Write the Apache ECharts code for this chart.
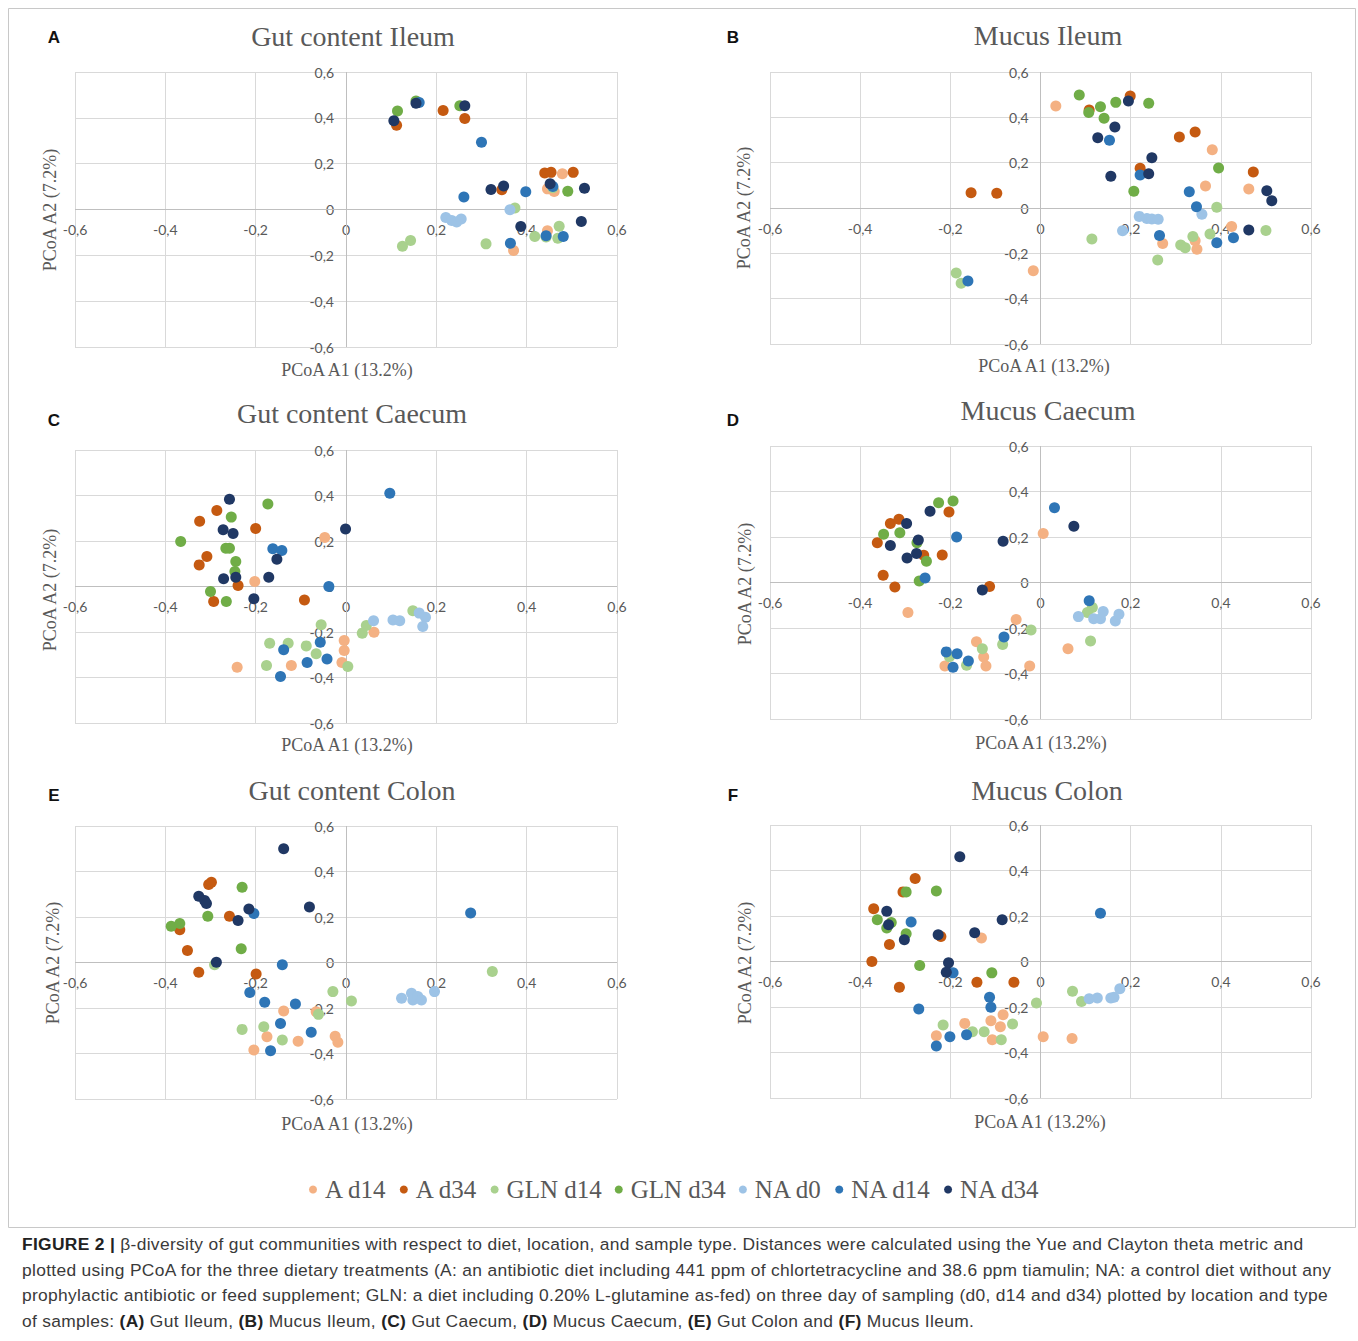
<!DOCTYPE html>
<html>
<head>
<meta charset="utf-8">
<script src="https://cdn.jsdelivr.net/npm/echarts@6/dist/echarts.min.js"></script>
<style>
html,body{margin:0;padding:0;background:#fff;}
#chart{position:absolute;left:0;top:0;width:1358px;height:1341px;}
#cap{position:absolute;left:22px;top:1232px;font-family:"Liberation Sans",Arial,sans-serif;font-size:17.4px;letter-spacing:0.32px;line-height:25.5px;color:#3a3a3a;white-space:nowrap;}
#cap b{color:#222;}
</style>
</head>
<body>
<div id="chart"></div>
<div id="cap"><b>FIGURE 2 |</b> β-diversity of gut communities with respect to diet, location, and sample type. Distances were calculated using the Yue and Clayton theta metric and<br>plotted using PCoA for the three dietary treatments (A: an antibiotic diet including 441 ppm of chlortetracycline and 38.6 ppm tiamulin; NA: a control diet without any<br>prophylactic antibiotic or feed supplement; GLN: a diet including 0.20% L-glutamine as-fed) on three day of sampling (d0, d14 and d34) plotted by location and type<br>of samples: <b>(A)</b> Gut Ileum, <b>(B)</b> Mucus Ileum, <b>(C)</b> Gut Caecum, <b>(D)</b> Mucus Caecum, <b>(E)</b> Gut Colon and <b>(F)</b> Mucus Ileum.</div>
<script>
// ---- data ----
const seriesNames = ['A d14','A d34','GLN d14','GLN d34','NA d0','NA d14','NA d34'];
const panelTitles = ['Gut content Ileum','Mucus Ileum','Gut content Caecum','Mucus Caecum','Gut content Colon','Mucus Colon'];
const panelLetters = ['A','B','C','D','E','F'];
const axisTicks = [-0.6,-0.4,-0.2,0,0.2,0.4,0.6];
const xAxisName = 'PCoA A1 (13.2%)';
const yAxisName = 'PCoA A2 (7.2%)';

// Panel A: Gut content Ileum
const A_Ad14 = [[0.479,0.156],[0.446,0.09],[0.461,0.079],[0.446,-0.093],[0.371,-0.179]];
const A_Ad34 = [[0.112,0.368],[0.215,0.432],[0.263,0.397],[0.44,0.159],[0.454,0.162],[0.503,0.162],[0.345,0.086]];
const A_G14 = [[0.458,0.095],[0.374,0.007],[0.472,-0.073],[0.418,-0.118],[0.443,-0.12],[0.469,-0.125],[0.31,-0.15],[0.143,-0.135],[0.125,-0.16]];
const A_G34 = [[0.155,0.473],[0.114,0.43],[0.252,0.453],[0.491,0.08]];
const A_N0 = [[0.363,-0.001],[0.221,-0.035],[0.234,-0.048],[0.245,-0.055],[0.255,-0.041]];
const A_N14 = [[0.162,0.467],[0.3,0.293],[0.458,0.1],[0.398,0.077],[0.261,0.055],[0.443,-0.115],[0.481,-0.118],[0.364,-0.147]];
const A_N34 = [[0.155,0.464],[0.106,0.387],[0.263,0.453],[0.452,0.112],[0.528,0.093],[0.321,0.087],[0.349,0.103],[0.387,-0.074],[0.521,-0.052]];

// Panel B: Mucus Ileum
const B_Ad14 = [[0.034,0.45],[0.381,0.257],[0.366,0.097],[0.462,0.084],[0.271,-0.157],[0.343,-0.144],[0.347,-0.182],[0.424,-0.082],[-0.016,-0.277]];
const B_Ad34 = [[0.108,0.432],[0.199,0.494],[0.308,0.313],[0.343,0.335],[0.221,0.175],[0.472,0.159],[-0.154,0.067],[-0.097,0.065]];
const B_G14 = [[0.391,0.003],[0.114,-0.137],[0.311,-0.163],[0.321,-0.175],[0.338,-0.126],[0.376,-0.115],[0.5,-0.099],[0.26,-0.229],[-0.187,-0.287],[-0.176,-0.332]];
const B_G34 = [[0.086,0.499],[0.107,0.421],[0.133,0.447],[0.141,0.396],[0.167,0.466],[0.24,0.462],[0.395,0.176],[0.207,0.074]];
const B_N0 = [[0.358,-0.028],[0.219,-0.037],[0.236,-0.046],[0.247,-0.049],[0.261,-0.05],[0.182,-0.1]];
const B_N14 = [[0.153,0.299],[0.221,0.146],[0.33,0.072],[0.346,0.006],[0.264,-0.121],[0.391,-0.153],[0.428,-0.131],[-0.161,-0.322]];
const B_N34 = [[0.195,0.472],[0.127,0.31],[0.165,0.357],[0.156,0.14],[0.247,0.222],[0.24,0.151],[0.502,0.076],[0.513,0.032],[0.462,-0.097]];

// Panel C: Gut content Caecum
const C_Ad14 = [[-0.202,0.022],[-0.047,0.215],[-0.004,-0.237],[-0.004,-0.281],[-0.009,-0.334],[-0.241,-0.355],[-0.121,-0.347],[0.062,-0.201]];
const C_Ad34 = [[-0.286,0.334],[-0.324,0.287],[-0.2,0.255],[-0.308,0.132],[-0.325,0.095],[-0.239,0.004],[-0.293,-0.066],[-0.092,-0.059]];
const C_G14 = [[-0.055,-0.168],[-0.169,-0.249],[-0.128,-0.249],[-0.088,-0.261],[-0.066,-0.296],[0.004,-0.352],[-0.176,-0.347],[0.045,-0.171],[0.036,-0.205],[0.148,-0.107]];
const C_G34 = [[-0.173,0.363],[-0.254,0.305],[-0.366,0.198],[-0.266,0.168],[-0.258,0.168],[-0.244,0.11],[-0.246,0.066],[-0.3,-0.022],[-0.265,-0.066]];
const C_N0 = [[0.061,-0.151],[0.104,-0.147],[0.119,-0.151],[0.162,-0.117],[0.176,-0.135],[0.17,-0.176]];
const C_N14 = [[-0.162,0.166],[-0.142,0.158],[-0.038,0.0],[0.097,0.41],[-0.057,-0.245],[-0.138,-0.278],[-0.086,-0.334],[-0.042,-0.319],[-0.145,-0.396]];
const C_N34 = [[-0.258,0.384],[-0.272,0.249],[-0.25,0.233],[-0.271,0.034],[-0.244,0.041],[-0.153,0.12],[-0.171,0.041],[-0.204,-0.054],[-0.001,0.253]];

// Panel D: Mucus Caecum
const D_Ad14 = [[0.006,0.215],[-0.294,-0.132],[-0.054,-0.163],[-0.142,-0.26],[-0.126,-0.327],[-0.121,-0.367],[-0.212,-0.367],[-0.024,-0.367],[0.061,-0.291]];
const D_Ad34 = [[-0.203,0.31],[-0.333,0.259],[-0.314,0.278],[-0.362,0.175],[-0.259,0.12],[-0.218,0.121],[-0.349,0.032],[-0.323,-0.02],[-0.113,-0.018]];
const D_G14 = [[-0.021,-0.209],[-0.084,-0.272],[-0.129,-0.291],[-0.202,-0.326],[-0.164,-0.364],[0.111,-0.257],[0.115,-0.11],[0.104,-0.132]];
const D_G34 = [[-0.226,0.351],[-0.194,0.358],[-0.348,0.212],[-0.312,0.219],[-0.274,0.175],[-0.253,0.093],[-0.269,0.007]];
const D_N0 = [[0.084,-0.15],[0.118,-0.159],[0.133,-0.159],[0.139,-0.128],[0.166,-0.169],[0.174,-0.14]];
const D_N14 = [[-0.186,0.2],[-0.256,0.02],[0.031,0.329],[-0.081,-0.24],[-0.209,-0.305],[-0.185,-0.313],[-0.194,-0.373],[-0.16,-0.345],[0.108,-0.08]];
const D_N34 = [[-0.245,0.313],[-0.297,0.259],[-0.333,0.163],[-0.271,0.187],[-0.296,0.108],[-0.275,0.127],[-0.083,0.181],[-0.129,-0.033],[0.074,0.247]];

// Panel E: Gut content Colon
const E_Ad14 = [[-0.138,-0.213],[-0.066,-0.216],[-0.175,-0.326],[-0.106,-0.346],[-0.024,-0.324],[-0.018,-0.351],[-0.204,-0.385]];
const E_Ad34 = [[-0.304,0.343],[-0.298,0.353],[-0.258,0.203],[-0.368,0.144],[-0.351,0.053],[-0.326,-0.043],[-0.199,-0.051]];
const E_G14 = [[-0.291,-0.01],[-0.029,-0.128],[0.012,-0.169],[-0.061,-0.228],[-0.23,-0.294],[-0.182,-0.282],[-0.141,-0.341],[0.324,-0.04]];
const E_G34 = [[-0.23,0.331],[-0.306,0.203],[-0.387,0.159],[-0.368,0.171],[-0.232,0.06]];
const E_N0 = [[0.123,-0.157],[0.145,-0.135],[0.148,-0.165],[0.159,-0.15],[0.167,-0.165],[0.196,-0.128]];
const E_N14 = [[-0.204,0.215],[-0.141,-0.01],[-0.213,-0.132],[-0.18,-0.175],[-0.112,-0.182],[-0.145,-0.268],[-0.077,-0.307],[-0.167,-0.388],[0.276,0.218]];
const E_N34 = [[-0.138,0.5],[-0.326,0.291],[-0.313,0.272],[-0.309,0.259],[-0.239,0.185],[-0.215,0.235],[-0.081,0.244],[-0.287,0.001]];

// Panel F: Mucus Colon
const F_Ad14 = [[-0.131,0.103],[-0.083,-0.234],[-0.11,-0.26],[-0.089,-0.287],[-0.168,-0.272],[-0.231,-0.326],[-0.107,-0.344],[0.006,-0.331],[0.07,-0.338]];
const F_Ad34 = [[-0.278,0.365],[-0.305,0.306],[-0.37,0.232],[-0.335,0.075],[-0.221,0.11],[-0.374,0.0],[-0.313,-0.113],[-0.141,-0.091],[-0.059,-0.091]];
const F_G14 = [[-0.062,-0.275],[-0.216,-0.279],[-0.151,-0.309],[-0.125,-0.309],[-0.087,-0.344],[-0.009,-0.182],[0.071,-0.131],[0.091,-0.176]];
const F_G34 = [[-0.298,0.306],[-0.231,0.31],[-0.362,0.184],[-0.331,0.171],[-0.341,0.147],[-0.298,0.122],[-0.268,-0.018],[-0.108,-0.05]];
const F_N0 = [[0.108,-0.164],[0.126,-0.16],[0.156,-0.16],[0.163,-0.157],[0.176,-0.12]];
const F_N14 = [[-0.287,0.174],[0.133,0.212],[-0.194,-0.05],[-0.113,-0.157],[-0.11,-0.201],[-0.27,-0.209],[-0.164,-0.322],[-0.201,-0.331],[-0.231,-0.371]];
const F_N34 = [[-0.179,0.46],[-0.341,0.221],[-0.337,0.162],[-0.302,0.096],[-0.227,0.118],[-0.146,0.126],[-0.085,0.184],[-0.204,-0.006],[-0.209,-0.047]];

const panelData = [
  [A_Ad14,A_Ad34,A_G14,A_G34,A_N0,A_N14,A_N34],
  [B_Ad14,B_Ad34,B_G14,B_G34,B_N0,B_N14,B_N34],
  [C_Ad14,C_Ad34,C_G14,C_G34,C_N0,C_N14,C_N34],
  [D_Ad14,D_Ad34,D_G14,D_G34,D_N0,D_N14,D_N34],
  [E_Ad14,E_Ad34,E_G14,E_G34,E_N0,E_N14,E_N34],
  [F_Ad14,F_Ad34,F_G14,F_G34,F_N0,F_N14,F_N34]
];

// ---- layout & style ----
const colors = ['#f4b183','#c55a11','#a9d18e','#70ad47','#9dc3e6','#2e75b6','#203864'];
const grids = [
  {left:75, top:72, width:542, height:275},
  {left:770, top:72, width:541, height:272},
  {left:75, top:450, width:542, height:273},
  {left:770, top:446, width:541, height:273},
  {left:75, top:826, width:542, height:273},
  {left:770, top:825, width:541, height:273}
];
const titlePos = [[353,36],[1048,35],[352,413],[1048,410],[352,790],[1047,790]];
const letterPos = [[54,37],[733,37],[54,420],[733,420],[54,795],[733,795]];
const xNamePos = [[347,370],[1044,366],[347,745],[1041,743],[347,1124],[1040,1122]];
const yNamePos = [[50,210],[744,208],[50,590],[745,584],[53,963],[745,963]];

const fmt = v => Math.abs(v) < 1e-9 ? '0' : v.toFixed(1).replace('.', ',');
const serif = '"Liberation Serif","Times New Roman",serif';
const labelFont = 'Lato, "Open Sans", sans-serif';

const xAxes = [], yAxes = [], series = [], graphics = [];
grids.forEach((g, i) => {
  const common = {
    type:'value', min:axisTicks[0], max:axisTicks[axisTicks.length-1], interval:0.2, gridIndex:i,
    axisLine:{show:false},
    axisTick:{show:false},
    splitLine:{show:true, lineStyle:{color:'#d9d9d9', width:1}},
    axisLabel:{color:'#595959', fontSize:14, fontFamily:labelFont, formatter:fmt, showMinLabel:true, showMaxLabel:true}
  };
  // labels sit beside the zero lines (axes cross at the origin)
  xAxes.push(Object.assign({}, common, {position:'bottom', axisLabel:Object.assign({}, common.axisLabel, {margin:-(g.height/2 - 13)})}));
  yAxes.push(Object.assign({}, common, {position:'left', axisLabel:Object.assign({}, common.axisLabel, {margin:-(g.width/2 - 12)})}));
  panelData[i].forEach((d, k) => {
    const s = {
      name:seriesNames[k], type:'scatter', xAxisIndex:i, yAxisIndex:i, data:d,
      symbol:'circle', symbolSize:11, itemStyle:{color:colors[k], opacity:1}, silent:true, z:2+k
    };
    if (k === 0) {
      s.markLine = {silent:true, symbol:'none', animation:false, label:{show:false},
        lineStyle:{color:'#bfbfbf', width:1, type:'solid'}, emphasis:{disabled:true},
        data:[{xAxis:0},{yAxis:0}], z:1};
    }
    series.push(s);
  });
  graphics.push({type:'text', x:titlePos[i][0], y:titlePos[i][1], style:{text:panelTitles[i], font:'28px '+serif, fill:'#595959', align:'center', verticalAlign:'middle', textAlign:'center', textVerticalAlign:'middle'}});
  graphics.push({type:'text', x:letterPos[i][0], y:letterPos[i][1], style:{text:panelLetters[i], font:'bold 17px "Liberation Sans",Arial,sans-serif', fill:'#111', align:'center', verticalAlign:'middle', textAlign:'center', textVerticalAlign:'middle'}});
  graphics.push({type:'text', x:xNamePos[i][0], y:xNamePos[i][1], style:{text:xAxisName, font:'18px '+serif, fill:'#595959', align:'center', verticalAlign:'middle', textAlign:'center', textVerticalAlign:'middle'}});
  graphics.push({type:'text', x:yNamePos[i][0], y:yNamePos[i][1], rotation:Math.PI/2, style:{text:yAxisName, font:'18px '+serif, fill:'#595959', align:'center', verticalAlign:'middle', textAlign:'center', textVerticalAlign:'middle'}});
});
graphics.unshift({type:'rect', shape:{x:8.5, y:8.5, width:1347, height:1219}, style:{fill:'none', stroke:'#c8c8c8', lineWidth:1}, z:-10});

const chart = echarts.init(document.getElementById('chart'), null, {renderer:'svg'});
chart.setOption({
  animation:false,
  backgroundColor:'#fff',
  grid:grids,
  xAxis:xAxes,
  yAxis:yAxes,
  legend:{
    data:seriesNames, top:1172, left:304, icon:'circle', itemWidth:8, itemHeight:8, itemGap:13,
    selectedMode:false,
    textStyle:{fontFamily:serif, fontSize:25, color:'#595959', padding:[0,0,0,3]}
  },
  graphic:{elements:graphics},
  series:series
});
</script>
</body>
</html>
